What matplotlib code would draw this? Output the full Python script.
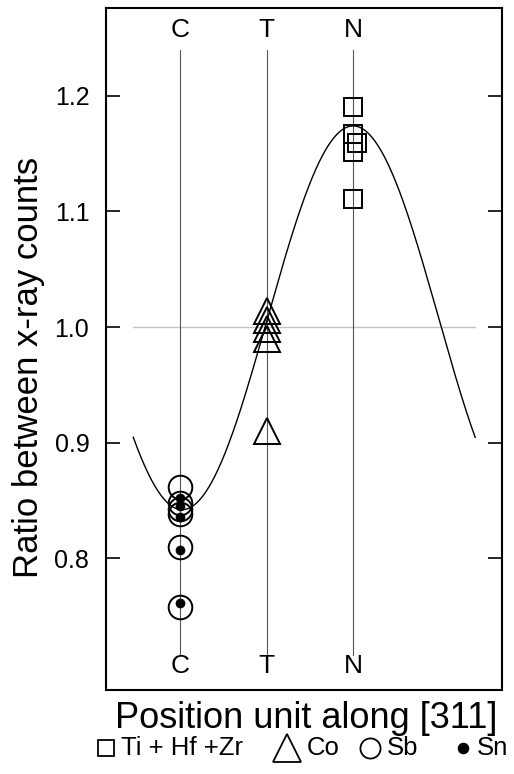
import numpy as np
import matplotlib
matplotlib.use("Agg")
import matplotlib.pyplot as plt

plt.rcParams["font.family"] = ["Liberation Sans", "DejaVu Sans"]

# posiciones de los sitios (unidades a lo largo de [311])
SITES = ["C", "T", "N"]
SITE_X = [0, 1, 2]

# Ti + Hf + Zr (sitio N)
sq_x = [2.0, 2.0, 2.05, 2.0, 2.0]
sq_y = [1.190, 1.167, 1.159, 1.151, 1.111]
# Co (sitio T)
tri_x = [1, 1, 1, 1, 1]
tri_y = [1.014, 1.006, 0.998, 0.990, 0.910]
# Sb (sitio C)
circ_x = [0, 0, 0, 0, 0, 0]
circ_y = [0.862, 0.848, 0.843, 0.838, 0.810, 0.758]
# Sn (sitio C)
dot_x = [0, 0, 0, 0, 0]
dot_y = [0.852, 0.845, 0.836, 0.807, 0.761]

# curva modelo (coseno)
CURVE_MEAN = 1.008
CURVE_AMP = 0.166
CURVE_PERIOD = 3.95
CURVE_PEAK = 2.0
CURVE_RANGE = (-0.54, 3.41)

YTICKS = [0.8, 0.9, 1.0, 1.1, 1.2]
LEGEND_LABELS = ["Ti + Hf +Zr", "Co", "Sb", "Sn"]

W, H = 514, 774
fig = plt.figure(figsize=(W / 100, H / 100), dpi=100)
ax = fig.add_axes([106 / W, 1 - 690 / H, 396 / W, 682 / H])
ax.set_xlim(-0.855, 3.72)
ax.set_ylim(0.686, 1.276)

for x, s in zip(SITE_X, SITES):
    ax.plot([x, x], [0.716, 1.240], color="#555555", lw=0.8, zorder=1)
    ax.text(x, 1.257, s, ha="center", va="center", fontsize=19)
    ax.text(x, 0.707, s, ha="center", va="center", fontsize=19)

ax.plot(CURVE_RANGE, [1.0, 1.0], color="#c4c4c4", lw=1.0, zorder=0)

xc = np.linspace(*CURVE_RANGE, 400)
yc = CURVE_MEAN + CURVE_AMP * np.cos(2 * np.pi * (xc - CURVE_PEAK) / CURVE_PERIOD)
ax.plot(xc, yc, color="black", lw=1.0, zorder=2)

ax.plot(sq_x, sq_y, "s", ms=12.5, mfc="none", mec="black", mew=1.4, zorder=3)
ax.plot(tri_x, tri_y, "^", ms=19, mfc="none", mec="black", mew=1.4, zorder=3)
ax.plot(circ_x, circ_y, "o", ms=17, mfc="none", mec="black", mew=1.4, zorder=3)
ax.plot(dot_x, dot_y, "o", ms=6.5, mfc="black", mec="black", mew=0.5, zorder=4)

ax.set_xticks([])
ax.set_yticks(YTICKS)
ax.set_yticklabels([f"{v:.1f}" for v in YTICKS])
ax.tick_params(axis="y", direction="in", length=10, width=1.2, labelsize=18,
               pad=12, right=True)
for sp in ax.spines.values():
    sp.set_linewidth(1.5)

fig.text(29 / W, 1 - 367 / H, "Ratio between x-ray counts", rotation=90,
         ha="center", va="center", fontsize=25)
fig.text(306 / W, 1 - 718 / H, "Position unit along [311]",
         ha="center", va="center", fontsize=26)

# leyenda manual en coordenadas de figura
ly = 1 - 748 / H
leg_marks = [("s", 12, "none", 106), ("^", 20, "none", 287),
             ("o", 14.5, "none", 370), ("o", 7, "black", 463)]
leg_text_x = [121, 307, 387, 477]
for (m, ms, fc, mx), tx, lab in zip(leg_marks, leg_text_x, LEGEND_LABELS):
    ax.plot([mx / W], [ly], m, ms=ms, mfc=fc, mec="black", mew=1.3,
            transform=fig.transFigure, clip_on=False)
    fig.text(tx / W, ly, lab, ha="left", va="center", fontsize=18.5)

fig.savefig("out.png", dpi=100)
